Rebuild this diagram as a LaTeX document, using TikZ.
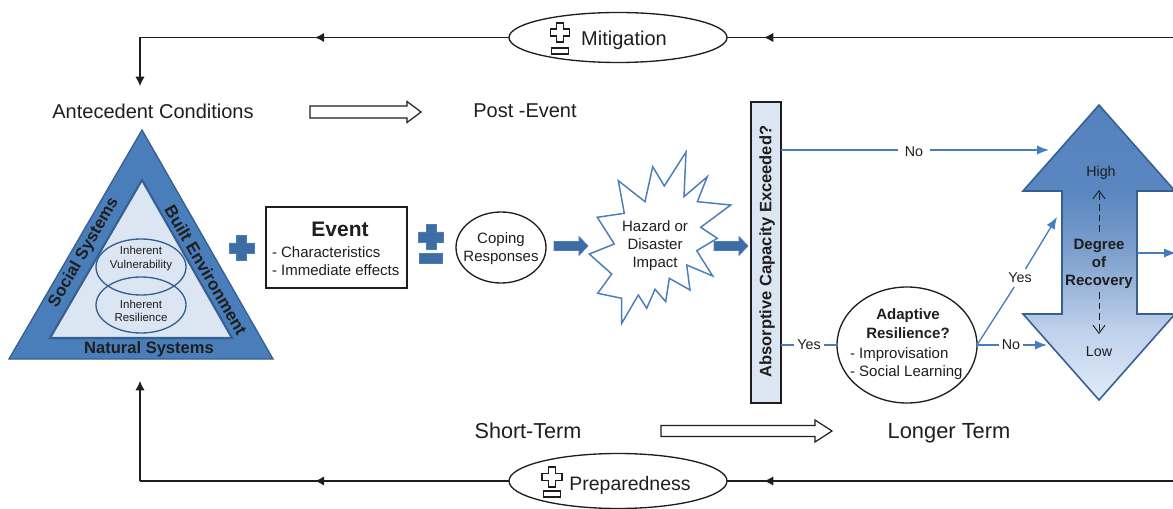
\documentclass[tikz,border=0pt]{standalone}
\usepackage{fontspec}
\setmainfont{Liberation Sans}
\usetikzlibrary{shapes.geometric,arrows.meta,decorations.markings,calc}
\definecolor{bluefill}{RGB}{74,126,187}
\definecolor{blueedge}{RGB}{55,96,146}
\definecolor{bluelight}{RGB}{220,230,242}
\definecolor{bluemark}{RGB}{62,108,165}
\definecolor{blueline}{RGB}{70,125,190}
\definecolor{ink}{RGB}{30,30,30}
\pgfdeclareverticalshading{recshade}{100bp}{rgb(0bp)=(0.882,0.922,0.973); rgb(25bp)=(0.882,0.922,0.973); rgb(37bp)=(0.745,0.816,0.922); rgb(50bp)=(0.490,0.627,0.804); rgb(60bp)=(0.353,0.529,0.753); rgb(75bp)=(0.333,0.510,0.745); rgb(100bp)=(0.333,0.510,0.745)}
\newcommand{\pxu}{0.75pt}
\tikzset{
  every node/.style={text=ink,inner sep=0pt,outer sep=0pt},
  fpt/.style={font=\fontsize{#1}{#1}\selectfont},
  blackline/.style={draw=ink,line width=0.8pt},
  midarr/.style={postaction={decorate},decoration={markings,mark=at position #1 with {\arrow{Latex[length=7pt,width=7pt]}}}},
  endarr/.style={-{Latex[length=7pt,width=7pt]}},
  blueconn/.style={draw=blueline,line width=1pt},
  bluearr/.style={blueconn,-{Latex[length=9pt,width=7pt]}},
  hollow/.style={draw=ink,line width=0.9pt,fill=white},
  solidarr/.style={draw=bluefill,line width=0.5pt,fill=bluemark},
  markfill/.style={draw=bluefill,line width=0.5pt,fill=bluemark},
  markopen/.style={draw=ink,line width=0.8pt,fill=white},
  dasharr/.style={draw=ink,line width=0.7pt,dash pattern=on 5pt off 3pt,-{Straight Barb[length=6pt,width=9pt]}},
}
% style, x0, x1, y, shaft half, head half, head length
\newcommand{\harrow}[7]{\draw[#1] (#2,#4-#5) -- (#3-#7,#4-#5) -- (#3-#7,#4-#6) -- (#3,#4) -- (#3-#7,#4+#6) -- (#3-#7,#4+#5) -- (#2,#4+#5) -- cycle;}
% style, cx, cy, half, arm half
\newcommand{\plusmark}[5]{\draw[#1] (#2-#5,#3-#4) -- (#2+#5,#3-#4) -- (#2+#5,#3-#5) -- (#2+#4,#3-#5) -- (#2+#4,#3+#5) -- (#2+#5,#3+#5) -- (#2+#5,#3+#4) -- (#2-#5,#3+#4) -- (#2-#5,#3+#5) -- (#2-#4,#3+#5) -- (#2-#4,#3-#5) -- (#2-#5,#3-#5) -- cycle;}
\begin{document}
\begin{tikzpicture}[x=0.75pt,y=-0.75pt]
\useasboundingbox (0,0) rectangle (1173,509);
\clip (0,0) rectangle (1173,509);

% free ends
\coordinate (topR) at (1173,37.5);
\coordinate (topL) at (140,37.5);
\coordinate (antec) at (140,86);
\coordinate (botR) at (1173,481);
\coordinate (botL) at (140,481);
\coordinate (natur) at (140,381);

% loop ovals
\node[ellipse,draw=ink,line width=1pt,minimum width=218*\pxu,minimum height=50*\pxu] (mit) at (618,37.5) {};
\node[ellipse,draw=ink,line width=1pt,minimum width=218*\pxu,minimum height=55*\pxu] (pre) at (618,481) {};
\node[fpt=15] (mittxt) at (624,40) {Mitigation};
\node[fpt=14.6] (pretxt) at (630,485) {Preparedness};
\plusmark{markopen}{560}{32.5}{9.5}{3.5}
\draw[markopen] (551.5,48) rectangle (568.5,54);
\plusmark{markopen}{552}{477}{10}{3.5}
\draw[markopen] (543.5,491) rectangle (560.5,497);

\draw[blackline,midarr=0.917] (topR) -- (mit.east);
\draw[blackline,midarr=0.526] (mit.west) -- (topL);
\draw[blackline,endarr] (topL) -- (antec);
\draw[blackline,midarr=0.917] (botR) -- (pre.east);
\draw[blackline,midarr=0.526] (pre.west) -- (botL);
\draw[blackline,endarr] (botL) -- (natur);

% time labels
\node[fpt=15] (ante) at (153,111) {Antecedent Conditions};
\node[fpt=15] (post) at (525,111) {Post -Event};
\node[fpt=16.2] (short) at (528,431) {Short-Term};
\node[fpt=16.4] (long) at (949,433) {Longer Term};
\harrow{hollow}{310}{421}{112}{6}{10.5}{14}
\harrow{hollow}{661}{832}{431}{5.5}{11}{17}

% triangle
\draw[draw=blueedge,line width=1pt,fill=bluefill,line join=miter] (142,130) -- (273,359) -- (9,359) -- cycle;
\draw[draw=blueedge,line width=1.6pt,fill=bluelight,line join=miter] (142,180) -- (232,338) -- (50,338) -- cycle;
\node[ellipse,draw=blueedge,line width=1pt,minimum width=90*\pxu,minimum height=56*\pxu] (vul) at (141,267) {};
\node[ellipse,draw=blueedge,line width=1pt,minimum width=90*\pxu,minimum height=56*\pxu] (res) at (141,305) {};
\node[fpt=8.6,align=center] (vultxt) at (141,258.5) {Inherent\\[1.5pt]Vulnerability};
\node[fpt=8.6,align=center] (restxt) at (141,311) {Inherent\\[1.5pt]Resilience};
\node[fpt=12.6,rotate=60] (soc) at (84,253) {\bfseries Social Systems};
\node[fpt=12.8,rotate=-60] (built) at (206,270) {\bfseries Built Environment};
\node[fpt=12.4] (nat) at (149,349.5) {\bfseries Natural Systems};

% plus
\plusmark{markfill}{241.5}{248}{12.5}{5}

% event
\node[draw=ink,line width=1pt,minimum width=141*\pxu,minimum height=81*\pxu] (event) at (336.5,247.5) {};
\node[fpt=15.75] (eventtxt) at (340,229) {\bfseries Event};
\node[fpt=11.25,anchor=west] (char) at (272,252) {- Characteristics};
\node[fpt=11.25,anchor=west] (imm) at (272,270.5) {- Immediate effects};

% plus-minus
\plusmark{markfill}{431}{237}{12.5}{5}
\draw[markfill] (419.5,253) rectangle (442.5,263);

% coping
\node[ellipse,draw=ink,line width=1pt,minimum width=90*\pxu,minimum height=71*\pxu] (cope) at (501,247.5) {};
\node[fpt=11.25,align=center] (copetxt) at (501,248.5) {Coping\\[2.5pt]Responses};
\harrow{solidarr}{554}{588}{246}{4.5}{9.5}{9}

% star
\draw[draw=bluefill,line width=1.1pt,fill=white,line join=miter]
 (686,152) -- (664.3,186) -- (652.7,166.7) -- (645,201.7) -- (618.3,180.7) -- (624.3,213.3)
 -- (597.3,217.3) -- (614.3,244) -- (589.3,254) -- (611.7,274) -- (597.7,293.3) -- (621.7,298.3)
 -- (621.7,323.3) -- (638.3,295) -- (646.7,308.3) -- (655,289.3) -- (665.7,301.7) -- (669.3,278.3)
 -- (690,290) -- (686.7,265) -- (712.7,276) -- (696.7,250.7) -- (717.3,238.3) -- (700.7,227.3)
 -- (730.7,205) -- (697.3,201.7) -- (707.3,176.7) -- (684,196.7) -- cycle;
\node[fpt=11.25,align=center] (haz) at (655,245.5) {Hazard or\\[2.5pt]Disaster\\[2.5pt]Impact};
\harrow{solidarr}{714}{748}{246}{4.5}{9.5}{9}

% absorptive capacity
\node[draw=ink,line width=1.1pt,fill=bluelight,minimum width=30*\pxu,minimum height=301*\pxu] (absb) at (766,252.5) {};
\node[fpt=12.4,rotate=90] (abstxt) at (767,251.5) {\bfseries Absorptive Capacity Exceeded?};

% recovery double arrow
\path[draw=blueedge,line width=1.2pt,shading=recshade,line join=miter]
 (1099,105) -- (1175,191) -- (1137,191) -- (1137,314) -- (1175,314) -- (1099,400) -- (1023,314) -- (1062,314) -- (1062,191) -- (1023,191) -- cycle;
\node[fpt=10.7] (high) at (1101,173) {High};
\node[fpt=10.7] (low) at (1099,352) {Low};
\node[fpt=11.25,align=center] (rec) at (1099,264) {\bfseries Degree\\[2.5pt]\bfseries of\\[2.5pt]\bfseries Recovery};
\coordinate (dashU) at (1099,232);
\coordinate (dashUe) at (1099,190);
\coordinate (dashD) at (1099,292);
\coordinate (dashDe) at (1099,334);
\draw[dasharr] (dashU) -- (dashUe);
\draw[dasharr] (dashD) -- (dashDe);

% adaptive
\node[ellipse,draw=ink,line width=1pt,minimum width=140*\pxu,minimum height=116*\pxu] (adapt) at (907,345) {};
\node[fpt=11.25,align=center] (adtxt) at (908,323.5) {\bfseries Adaptive\\[2.5pt]\bfseries Resilience?};
\node[fpt=11.25,anchor=west] (impr) at (850,354.5) {- Improvisation};
\node[fpt=11.25,anchor=west] (soci) at (850,372.5) {- Social Learning};

% connectors
\coordinate (inHigh) at (1049,150);
\coordinate (inMid) at (1057,217);
\coordinate (inLow) at (1047,345);
\coordinate (outR) at (1176,253);
\node[fpt=10.7,fill=white,inner xsep=5pt,inner ysep=2pt] (noA) at (914,152) {No};
\node[fpt=10.7,fill=white,inner xsep=2.5pt,inner ysep=2pt] (yesA) at (809,345) {Yes};
\node[fpt=10.7,fill=white,inner xsep=2.5pt,inner ysep=2pt] (noB) at (1011,345) {No};
\node[fpt=10.7,fill=white,inner xsep=2pt,inner ysep=3pt] (yesB) at (1020,278) {Yes};
\draw[blueconn] (absb.east |- noA) ++(0,-2) -- (noA.west |- 0,150);
\draw[bluearr] (noA.east |- 0,150) -- (inHigh);
\draw[blueconn] (absb.east |- yesA) -- (yesA);
\draw[blueconn] (yesA) -- (adapt.west);
\draw[blueconn] (adapt.east) -- (noB);
\draw[bluearr] (noB) -- (inLow);
\draw[blueconn] (adapt.east) -- (yesB);
\draw[bluearr] (yesB) -- (inMid);
\draw[bluearr] (1137,253) -- (outR);
\end{tikzpicture}
\end{document}
